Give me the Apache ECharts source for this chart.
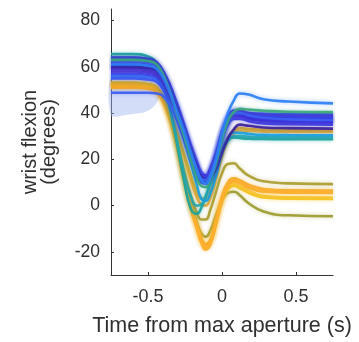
<!DOCTYPE html>
<html><head><meta charset="utf-8">
<script src="https://cdn.jsdelivr.net/npm/echarts@6/dist/echarts.min.js"></script>
<style>html,body{margin:0;padding:0;background:#fff}#c{width:359px;height:342px}</style>
</head><body><div id="c"></div>
<script>
var T = [-0.75, -0.6, -0.5, -0.44, -0.38, -0.32, -0.26, -0.21, -0.17, -0.14, -0.11, -0.08, -0.04, 0, 0.04, 0.08, 0.12, 0.18, 0.28, 0.45, 0.75];
var yTicks = [-20, 0, 20, 40, 60, 80];
var xTicks = [-0.5, 0, 0.5];

// shaded band near start
var bandT = [-0.75, -0.65, -0.55, -0.5, -0.46, -0.43, -0.41];
var bandLow = [39, 39.2, 40, 41, 43, 45.5, 48];
var bandHigh = [57, 57, 57, 56.8, 56, 54, 50];

// yellow / orange / olive group
var o1 = [52, 52, 51.5, 50, 43, 30, 12, -1, -9, -15, -18, -16, -7, 3, 9, 11, 10.2, 8.2, 6.6, 6.1, 6];
var o2 = [51, 51, 50.5, 49, 42, 29.5, 12, -0.5, -8.5, -14, -17, -15, -6, 4, 10, 11.8, 11, 9, 7.2, 6.6, 6.5];
var o3 = [53, 53, 52.5, 51, 43.5, 30.5, 12.5, -1.5, -10, -16, -19, -17, -8, 2, 8.5, 10.5, 9.7, 7.7, 6, 5.6, 5.5];
var y1 = [52, 52, 51.5, 50, 43, 30, 12, -1, -9.5, -15.5, -18, -16.5, -8, 1.5, 7, 8.5, 7.5, 5.5, 3.5, 3, 2.9];
var y2 = [51.5, 51.5, 51, 49.5, 42.5, 30, 13, 0, -8, -14, -16.5, -15, -6.5, 3, 8, 9.5, 8.5, 6.5, 4.2, 3.6, 3.5];
var olUp = [53, 53, 52.5, 51, 44, 32, 16, 4, -3, -6, -6, -2, 6, 14, 18, 18.3, 16, 13, 10.5, 9.6, 9.3];
var olLo = [52, 52, 51.5, 50, 43, 31, 14, 1, -7, -12, -13.5, -11, -4, 2, 5.5, 6, 4.5, 1, -2.5, -4.2, -4.6];
var oUp = [52, 52, 51.5, 50, 44, 34, 22, 11, 3.5, 0.5, 0, 3, 11, 21, 28, 31, 32.5, 32.3, 32, 31.8, 31.8];
var olMid = [53, 53, 52.5, 51, 44.5, 35, 23, 13, 6, 3, 3, 6, 14, 23, 29.5, 32.5, 33.5, 33.2, 32.8, 32.6, 32.5];

// teal / cyan
var te1 = [65.5, 65.5, 64.5, 61, 50, 32, 12, -1.5, -3.5, -1, 4, 10, 17.5, 24, 28.5, 29.5, 29.2, 28.9, 28.8, 28.7, 28.7];
var te2 = [64, 64, 63, 60, 49, 33, 15, 4, 0, 0.5, 4, 9, 16, 23, 28, 30, 30.2, 29.8, 29.6, 29.5, 29.5];
var cy1 = [60, 60, 59.5, 58, 51.5, 41, 29, 18, 9, 3, 2, 5, 13, 23, 29, 31.5, 31.5, 31, 30.6, 30.5, 30.4];

// blue group
var b1 = [63, 63, 62.5, 61, 55, 45, 34, 24, 17, 13, 13, 16, 23, 32, 38, 41, 41, 40, 39.5, 39.2, 39];
var b2 = [61, 61, 60.5, 59, 53, 43, 32, 22, 15, 11, 10.5, 13, 20, 30, 37, 40.5, 40.5, 39.5, 38.5, 38.2, 38];
var b3 = [60, 60, 59.5, 58, 52, 42.5, 32, 23, 16, 12, 11.5, 14, 21, 30, 37, 40, 40, 38.8, 37.8, 37.3, 37];
var b4 = [58, 58, 57.5, 56, 50, 40, 30, 21, 14, 10, 9.5, 12, 19, 28.5, 35.5, 38.5, 38.5, 37.5, 36.5, 36.2, 36];
var b5 = [57, 57, 56.5, 55, 49.5, 41, 31, 22.5, 16, 12, 11, 13.5, 20, 29, 35, 37.5, 37.5, 36.5, 35.5, 35.2, 35];
var b6 = [62, 62, 61.5, 60.5, 56, 47, 36, 26, 19, 14.5, 13, 14.5, 21, 30, 37, 40, 40.5, 39.5, 39, 38.7, 38.5];
var b7 = [59, 59, 58.5, 57, 51, 42, 32, 23.5, 16.5, 12.5, 12, 14.5, 21.5, 30, 36.5, 39, 39, 38, 37, 36.7, 36.5];
var b8 = [55, 55, 54.5, 53.5, 48, 39.5, 30, 21.5, 15, 11, 10.5, 13, 20, 29.5, 36.5, 39.5, 39.5, 38.5, 38, 37.7, 37.5];
var b9 = [60, 60, 59.5, 58.5, 53, 44, 33, 24, 17, 12.5, 11, 12, 16, 23, 29, 33, 35, 34.5, 33.8, 33.5, 33.3];
var b10 = [56, 56, 55.5, 54.5, 49, 40.5, 31, 22.5, 16, 12.5, 12, 15, 22, 31, 38, 41, 41, 40, 39.8, 39.6, 39.5];
var b11 = [64, 64, 63.5, 62, 56, 46, 34.5, 24.5, 17, 12, 11, 13.5, 20.5, 29.5, 36.5, 39.5, 39.5, 38, 37, 36.7, 36.5];
var bFlat = [48.8, 48.8, 48.8, 48.5, 46, 40, 31, 22, 15.5, 11.5, 11, 13.5, 20.5, 30, 37, 40, 40, 39, 38, 37.3, 37];
var lb = [61, 61, 60.5, 59, 53, 43.5, 33, 23, 15.5, 11, 9.5, 12, 20, 31, 40, 45.5, 48.5, 48, 46, 45, 44.2];
var gr = [63, 63, 62.5, 61, 54, 43, 31, 20, 12, 8.5, 8, 11, 18.5, 28.5, 36.5, 40.5, 41.8, 41.5, 41, 40.6, 40.4];

function pairs(xs, ys) { return xs.map(function (x, i) { return [x, ys[i]]; }); }
function hexA(hex, a) {
  var n = parseInt(hex.slice(1), 16);
  return 'rgba(' + (n >> 16 & 255) + ',' + (n >> 8 & 255) + ',' + (n & 255) + ',' + a + ')';
}
function line(vals, color, w) {
  return {
    type: 'line', data: pairs(T, vals), smooth: 0.5,
    showSymbol: false, silent: true, z: 3,
    lineStyle: { color: color, width: w || 2.6, opacity: 0.92, shadowColor: hexA(color, 0.45), shadowBlur: 4 }
  };
}

var bandSeries = {
  type: 'custom', silent: true, z: 1,
  data: [0],
  renderItem: function (params, api) {
    var pts = [];
    for (var i = 0; i < bandT.length; i++) pts.push(api.coord([bandT[i], bandHigh[i]]));
    for (var j = bandT.length - 1; j >= 0; j--) pts.push(api.coord([bandT[j], bandLow[j]]));
    return { type: 'polygon', shape: { points: pts, smooth: 0.3 }, style: { fill: 'rgba(160,180,238,0.45)' } };
  }
};

var series = [
  bandSeries,
  line(olLo, '#9c9a2c'), line(y1, '#f3c21d'), line(y2, '#f6c62c'), line(o3, '#fbad28'),
  line(o2, '#f9a826'), line(o1, '#fdb031'), line(olUp, '#a99d2e'), line(oUp, '#f0a62c'), line(olMid, '#d5a92a'),
  line(te1, '#1aa39b'), line(te2, '#26a6ad'), line(cy1, '#1c9ee0'),
  line(b5, '#3d3fe6'), line(b8, '#3a52f0'), line(b4, '#4335d8'), line(b10, '#3566f0'), line(b3, '#3b3be8'),
  line(b7, '#4a30cf'), line(b2, '#3f2ed6'), line(b6, '#3a49ee'), line(b1, '#4438dd'), line(b11, '#3c2fd9'),
  line(b9, '#3b1f9c'), line(bFlat, '#3c5ef2'), line(gr, '#3aa97a'), line(lb, '#2d7ff5')
];

var txt = '#303030';
var chart = echarts.init(document.getElementById('c'), null, { renderer: 'canvas' });
chart.setOption({
  animation: false,
  grid: { left: 111, right: 26, top: 9, bottom: 66 },
  xAxis: {
    type: 'value', min: -0.75, max: 0.75,
    name: 'Time from max aperture (s)', nameLocation: 'middle', nameGap: 40,
    nameTextStyle: { fontFamily: 'Liberation Sans', fontSize: 21.5, color: txt },
    axisLine: { show: true, onZero: false, lineStyle: { color: '#333', width: 1 } },
    axisTick: { show: true, inside: true, length: 3, customValues: xTicks, lineStyle: { color: '#333' } },
    axisLabel: { customValues: xTicks, margin: 13, fontFamily: 'Liberation Sans', fontSize: 18, color: txt,
      formatter: function (v) { return String(v); } },
    splitLine: { show: false }
  },
  yAxis: {
    type: 'value', min: -30, max: 85,
    name: 'wrist flexion\n(degrees)', nameLocation: 'middle', nameGap: 52, nameRotate: 90,
    nameTextStyle: { fontFamily: 'Liberation Sans', fontSize: 20, color: txt, lineHeight: 19, align: 'center' },
    axisLine: { show: true, onZero: false, lineStyle: { color: '#333', width: 1 } },
    axisTick: { show: true, inside: true, length: 3, customValues: yTicks, lineStyle: { color: '#333' } },
    axisLabel: { customValues: yTicks, margin: 11, fontFamily: 'Liberation Sans', fontSize: 17.5, color: txt },
    splitLine: { show: false }
  },
  series: series
});
</script></body></html>
